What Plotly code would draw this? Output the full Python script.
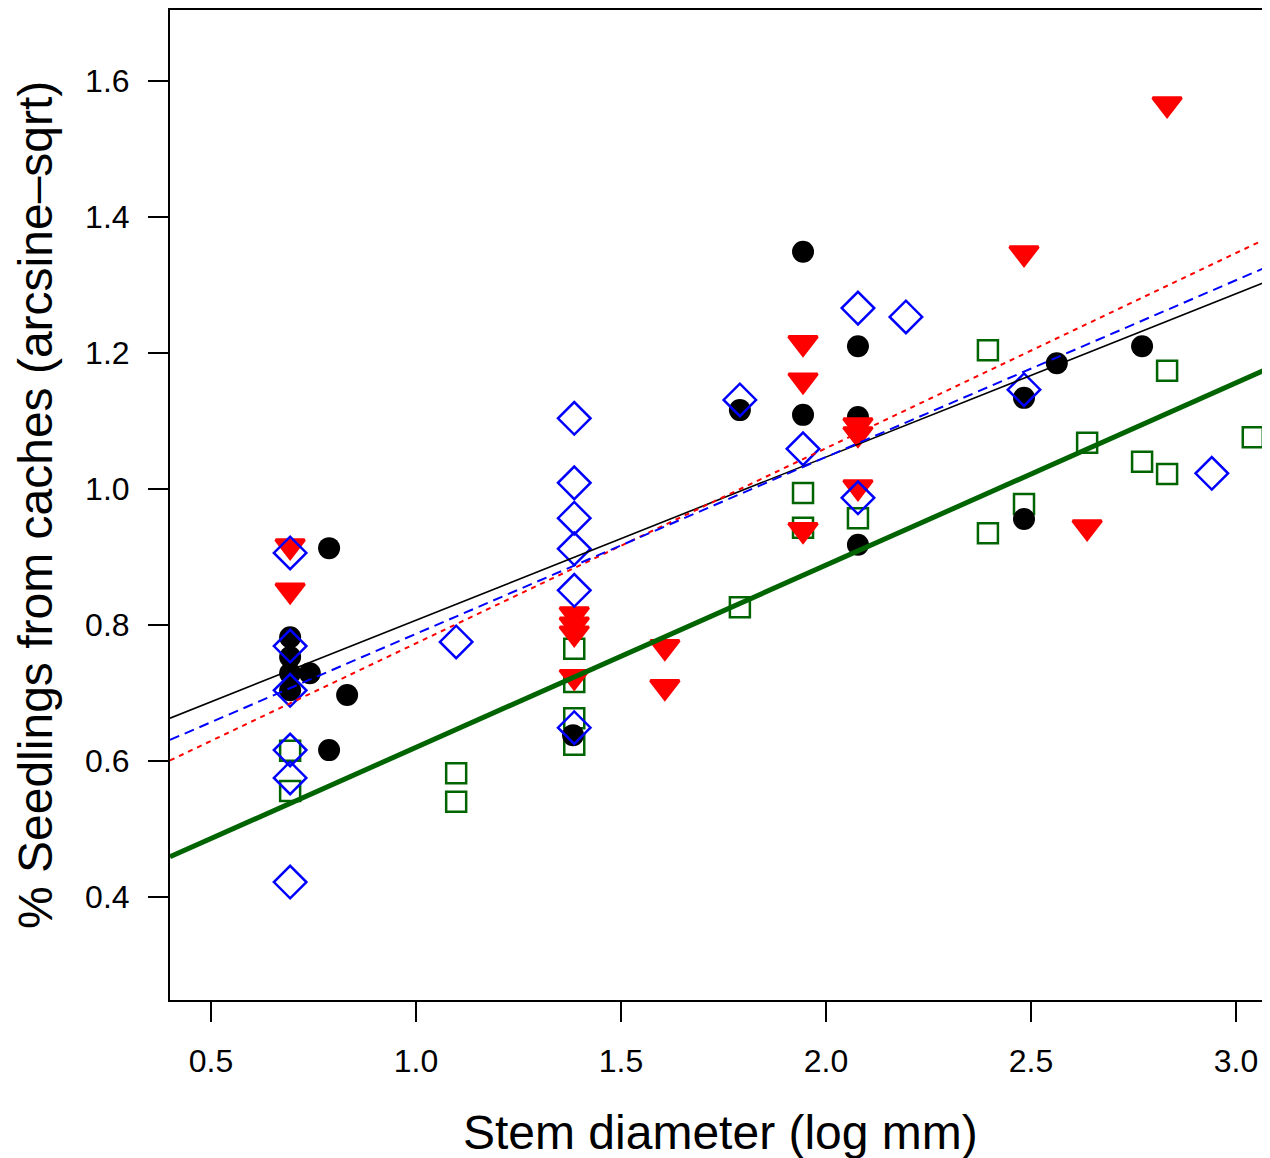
import plotly.graph_objects as go

# ---- data ----
black_x = [0.693, 0.693, 0.693, 0.693, 0.741, 0.832, 0.788, 0.788, 1.383, 1.790,
           1.944, 1.944, 2.078, 2.078, 2.078, 2.483, 2.563, 2.483, 2.771]
black_y = [0.782, 0.753, 0.729, 0.704, 0.729, 0.697, 0.913, 0.616, 0.638, 1.116,
           1.349, 1.109, 1.210, 1.106, 0.918, 1.134, 1.185, 0.956, 1.210]

red_x = [0.693, 0.693, 1.386, 1.386, 1.386, 1.386, 1.607, 1.607, 1.944, 1.944,
         1.944, 2.078, 2.078, 2.078, 2.483, 2.637, 2.832]
red_y = [0.916, 0.851, 0.816, 0.801, 0.788, 0.724, 0.768, 0.709, 1.215, 1.160,
         0.940, 1.094, 1.081, 1.003, 1.347, 0.944, 1.566]

blue_x = [0.693, 0.693, 0.693, 0.693, 0.693, 0.693,
          1.386, 1.386, 1.386, 1.386, 1.386, 1.386,
          1.098, 1.790, 2.078, 2.195, 1.944, 2.078, 2.483, 2.941]
blue_y = [0.906, 0.769, 0.704, 0.616, 0.575, 0.422,
          1.104, 1.009, 0.957, 0.912, 0.851, 0.649,
          0.775, 1.131, 1.266, 1.253, 1.059, 0.987, 1.146, 1.023]

green_x = [0.693, 0.693, 1.098, 1.098, 1.386, 1.386, 1.386, 1.386, 1.790, 1.944,
           1.944, 2.078, 2.395, 2.395, 2.483, 2.637, 2.771, 2.832, 2.832, 3.041]
green_y = [0.615, 0.556, 0.582, 0.540, 0.765, 0.716, 0.663, 0.624, 0.826, 0.994,
           0.943, 0.957, 1.204, 0.935, 0.978, 1.068, 1.040, 1.022, 1.174, 1.076]

# regression lines: intercept, slope
fit_black = (0.567, 0.240)
fit_red = (0.486, 0.287)
fit_blue = (0.527, 0.260)
fit_green = (0.352, 0.268)

x_range = [0.4, 3.083]
y_range = [0.2485, 1.7044]
x_ticks = [0.5, 1.0, 1.5, 2.0, 2.5, 3.0]
y_ticks = [0.4, 0.6, 0.8, 1.0, 1.2, 1.4, 1.6]

FONT = "Liberation Sans, Arial, Helvetica, sans-serif"

fig = go.Figure()

fig.add_trace(go.Scatter(x=green_x, y=green_y, mode="markers",
                         marker=dict(symbol="square-open", size=20, color="#006400",
                                     line=dict(width=2.5, color="#006400"))))
fig.add_trace(go.Scatter(x=black_x, y=black_y, mode="markers",
                         marker=dict(symbol="circle", size=22, color="black",
                                     line=dict(width=0))))
fig.add_trace(go.Scatter(x=red_x, y=red_y, mode="markers",
                         marker=dict(symbol="triangle-down", size=25, color="#ff0000",
                                     line=dict(width=3, color="#ff0000"))))
fig.add_trace(go.Scatter(x=blue_x, y=blue_y, mode="markers",
                         marker=dict(symbol="diamond-open", size=25, color="#0000ff",
                                     line=dict(width=2.5, color="#0000ff"))))


def line_trace(fit, color, width, dash):
    a, b = fit
    xs = list(x_range)
    ys = [a + b * v for v in xs]
    return go.Scatter(x=xs, y=ys, mode="lines",
                      line=dict(color=color, width=width, dash=dash))


fig.add_trace(line_trace(fit_green, "#006400", 5, "solid"))
fig.add_trace(line_trace(fit_black, "black", 1.6, "solid"))
fig.add_trace(line_trace(fit_red, "#ff0000", 2, "5px,5px"))
fig.add_trace(line_trace(fit_blue, "#0000ff", 2, "10px,6px"))

# the page puts the figure 8px from the top-left corner
fig.update_layout(
    width=1262, height=1150,
    margin=dict(l=162, r=0, t=2, b=158),
    paper_bgcolor="white", plot_bgcolor="white",
    showlegend=False,
    font=dict(family=FONT, color="black"),
    xaxis=dict(range=x_range, tickvals=x_ticks, tickformat=".1f",
               showgrid=False, zeroline=False,
               showline=True, mirror=True, linecolor="black", linewidth=2,
               ticks="outside", ticklen=20, tickwidth=2, tickcolor="black",
               tickfont=dict(size=32, family=FONT), ticklabelstandoff=12),
    yaxis=dict(range=y_range, tickvals=y_ticks, tickformat=".1f",
               showgrid=False, zeroline=False,
               showline=True, mirror=False, linecolor="black", linewidth=2,
               ticks="outside", ticklen=20, tickwidth=2, tickcolor="black",
               tickfont=dict(size=32, family=FONT), ticklabelstandoff=12),
    annotations=[
        dict(text="Stem diameter (log mm)", xref="paper", yref="paper",
             x=0.5, y=-(1132 - 1000) / 990, xanchor="center", yanchor="middle",
             showarrow=False, font=dict(size=48, family=FONT, color="black")),
        dict(text="% Seedlings from caches (arcsine\u2013sqrt)", xref="paper", yref="paper",
             x=-(170 - 35) / 1100, y=0.5, xanchor="center", yanchor="middle",
             textangle=-90, showarrow=False,
             font=dict(size=48, family=FONT, color="black")),
    ],
)

fig.write_html("out.html")
